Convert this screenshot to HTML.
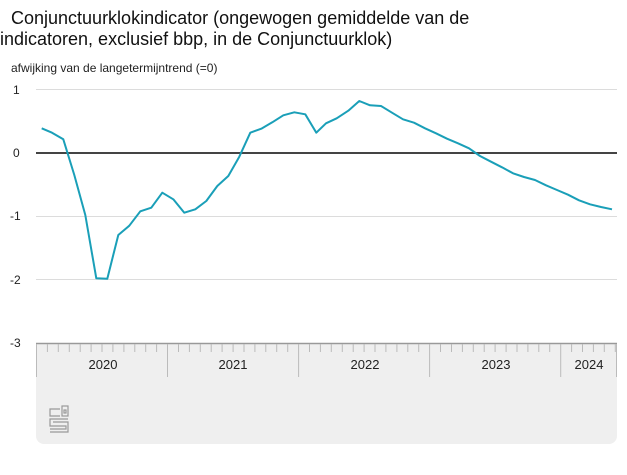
<!DOCTYPE html>
<html><head><meta charset="utf-8"><style>
body{margin:0;background:#fff;width:627px;height:470px;overflow:hidden;font-family:"Liberation Sans",Arial,sans-serif}
</style></head><body>
<svg id="s" width="627" height="470" xmlns="http://www.w3.org/2000/svg" font-family="Liberation Sans, Arial, sans-serif">
<text x="11" y="24" font-size="18" fill="#111">Conjunctuurklokindicator (ongewogen gemiddelde van de</text>
<text x="0" y="45" font-size="18" fill="#111">indicatoren, exclusief bbp, in de Conjunctuurklok)</text>
<text x="11" y="72" font-size="12" fill="#222">afwijking van de langetermijntrend (=0)</text>
<g font-size="12" fill="#222">
<text x="13" y="94">1</text><text x="13" y="157">0</text><text x="10" y="220">-1</text><text x="10" y="284">-2</text><text x="10" y="347">-3</text>
</g>
<g stroke="#dcdcdc" stroke-width="1">
<line x1="36" x2="617" y1="89.5" y2="89.5"/><line x1="36" x2="617" y1="216.5" y2="216.5"/><line x1="36" x2="617" y1="279.5" y2="279.5"/>
</g>
<line x1="36" x2="617" y1="153" y2="153" stroke="#444" stroke-width="2"/>
<path d="M36 343 H617 V436 a8 8 0 0 1 -8 8 H44 a8 8 0 0 1 -8 -8 Z" fill="#efefef"/>
<line x1="36" x2="617" y1="343.5" y2="343.5" stroke="#999" stroke-width="1.5"/>
<g id="ticks" stroke="#bbb" stroke-width="1"></g>
<g font-size="13" fill="#222" text-anchor="middle">
<text x="103" y="369">2020</text><text x="233" y="369">2021</text><text x="365" y="369">2022</text><text x="496" y="369">2023</text><text x="589" y="369">2024</text>
</g>
<g stroke="#999" fill="none" stroke-width="1.2">
<path d="M60 409 H50 V416 H60"/><rect x="62" y="406" width="6" height="10"/><rect x="64" y="410" width="2" height="3"/>
<path d="M68 419 H50 V426 H66 V429 H50 M50 432 H68 V422 H53"/>
</g>
<polyline fill="none" stroke="#1a9fb8" stroke-width="2" stroke-linejoin="round" points="41.7,128.3 52,132.7 63.3,139.3 74.3,175 85.3,215 96.3,278.3 107.3,278.7 118.3,235 129.3,225.7 140.3,211.3 151.3,207.7 162.3,192.7 173.3,199.3 184.3,212.7 195.3,209.3 206.3,201 217.3,186 228.3,176 239.3,156.7 250.3,132.7 261.3,128.7 272.3,122.3 283.3,115.3 294.3,112.3 305.3,114.3 316.3,132.7 326,123.3 336.7,118.3 348.3,110.7 359.3,101 370,105.3 381,106 392,112.7 403,119.3 414,122.7 425,128.3 436,133.3 447,138.7 458,143.3 469,148.3 480,156 491,161.7 502,167.3 513,173.3 524,177 535,180 546,185.3 557,190 568,194.7 579,200.3 590,204.3 601,207 612,209.3"/>
</svg>
<script>
var g=document.getElementById('ticks'),d='';
for(var k=0;k<=53;k++){var x=(36.5+k*10.92).toFixed(1);if(x>617)break;var big=(k%12==0);d+='M'+x+' 344V'+(big?377:352);}
d+='M616.5 344V377';
var p=document.createElementNS('http://www.w3.org/2000/svg','path');p.setAttribute('d',d);g.appendChild(p);
</script>
</body></html>
